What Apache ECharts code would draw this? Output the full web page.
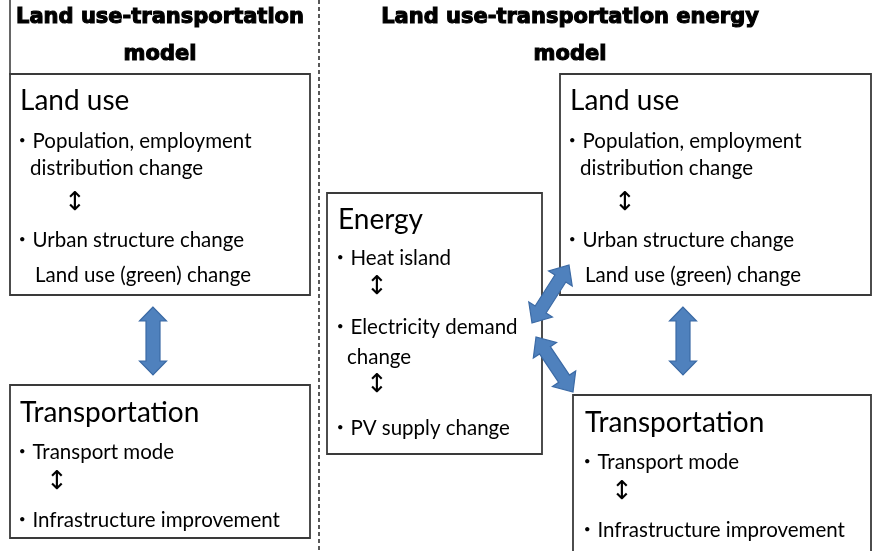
<!DOCTYPE html>
<html><head><meta charset="utf-8">
<script src="https://cdn.jsdelivr.net/npm/echarts@6/dist/echarts.min.js"></script>
<style>html,body{margin:0;padding:0;background:#fff}#c{width:873px;height:551px}</style>
</head><body><div id="c"></div>
<script>
// ---- content (text) ----
const titleLeft = ['Land use-transportation', 'model'];
const titleRight = ['Land use-transportation energy', 'model'];
const landUseHeading = 'Land use';
const landUseItems = ['・Population, employment', 'distribution change', '↕', '・Urban structure change', 'Land use (green) change'];
const transportHeading = 'Transportation';
const transportItems = ['・Transport mode', '↕', '・Infrastructure improvement'];
const energyHeading = 'Energy';
const energyItems = ['・Heat island', '↕', '・Electricity demand', 'change', '↕', '・PV supply change'];

// ---- layout (positions / styles) ----
const BODY_FONT = 'Lato, "Noto Sans CJK JP", sans-serif';
const TITLE_FONT = '"DejaVu Sans", sans-serif';
const boxStroke = '#3a3a3a';
const arrowFill = '#4f81bd';
const arrowStroke = '#3b6aa5';
const BODY_SIZE = 20.5;
const HEAD_SIZE = 28;

const landUseItemX = [-8, 10, 55, -8, 15];
const landUseItemY = [67, 94, 129, 166, 201];
const transportItemX = [-8, 37, -8];
const transportItemY = [67, 97, 135];
const energyItemX = [-8, 39, -8, 9, 39, -8];
const energyItemY = [258, 287, 327, 357, 385, 428];

const elements = [];

function text(x, y, s, size, opts) {
  const isArrow = s === '↕';
  elements.push({
    type: 'text', x: x, y: y, z: 5,
    style: Object.assign({
      text: s, fill: '#000',
      font: (isArrow ? '' : (opts && opts.bold ? 'bold ' : '')) + (isArrow ? 26 : size) + 'px ' + (isArrow ? '"DejaVu Sans", sans-serif' : (opts && opts.family ? opts.family : BODY_FONT)),
      textAlign: isArrow ? 'center' : 'left', textVerticalAlign: 'middle'
    }, opts && opts.style ? opts.style : {})
  });
}
function box(x, y, w, h) {
  elements.push({ type: 'rect', z: 1, shape: { x: x, y: y, width: w, height: h },
    style: { fill: '#fff', stroke: boxStroke, lineWidth: 1.8 } });
}
function arrow(x1, y1, x2, y2, shaft, head, hl) {
  const dx = x2 - x1, dy = y2 - y1, L = Math.hypot(dx, dy);
  const ux = dx / L, uy = dy / L, nx = -uy, ny = ux;
  const a1 = [x1 + ux * hl, y1 + uy * hl], a2 = [x2 - ux * hl, y2 - uy * hl];
  const P = (p, k) => [p[0] + nx * k, p[1] + ny * k];
  const pts = [[x1, y1], P(a1, head / 2), P(a1, shaft / 2), P(a2, shaft / 2), P(a2, head / 2), [x2, y2],
    P(a2, -head / 2), P(a2, -shaft / 2), P(a1, -shaft / 2), P(a1, -head / 2)];
  elements.push({ type: 'polygon', z: 10, shape: { points: pts },
    style: { fill: arrowFill, stroke: arrowStroke, lineWidth: 1.2 } });
}

// separators
elements.push({ type: 'line', shape: { x1: 319, y1: 0, x2: 319, y2: 551 },
  style: { stroke: '#222', lineWidth: 1.5, lineDash: [4, 3] } });
elements.push({ type: 'line', shape: { x1: 10, y1: 0, x2: 10, y2: 75 },
  style: { stroke: '#333', lineWidth: 1.5 } });

// titles
function title(cx, lines) {
  const st = { textAlign: 'center', stroke: '#000', lineWidth: 1.1 };
  text(cx, 18, lines[0], 21, { bold: true, family: TITLE_FONT, style: st });
  text(cx, 55, lines[1], 21, { bold: true, family: TITLE_FONT, style: st });
}
title(160, titleLeft);
title(570, titleRight);

function landUse(bx, by, bw, bh, tx) {
  box(bx, by, bw, bh);
  text(tx, by + 27, landUseHeading, HEAD_SIZE);
  landUseItems.forEach((s, i) => text(tx + landUseItemX[i], by + landUseItemY[i], s, BODY_SIZE));
}
landUse(10, 74, 300, 221, 20);
landUse(560, 74, 311, 221, 570);

function transport(bx, by, bw, bh, tx) {
  box(bx, by, bw, bh);
  text(tx, by + 28, transportHeading, HEAD_SIZE);
  transportItems.forEach((s, i) => text(tx + transportItemX[i], by + transportItemY[i], s, BODY_SIZE));
}
transport(10, 385, 300, 153, 20);
transport(573, 395, 298, 200, 585);

box(327, 193, 215, 261);
text(338, 220, energyHeading, HEAD_SIZE);
energyItems.forEach((s, i) => text(338 + energyItemX[i], energyItemY[i], s, BODY_SIZE));

// arrows
arrow(153, 307, 153, 375, 14, 27, 14);
arrow(683, 307, 683, 375, 14, 27, 14);
arrow(532, 323, 569, 265, 13, 28, 16);
arrow(536, 337, 573, 392, 13, 28, 16);

const chart = echarts.init(document.getElementById('c'), null, { renderer: 'canvas', width: 873, height: 551 });
chart.setOption({ backgroundColor: '#fff', animation: false, graphic: { elements: elements } });
</script></body></html>
